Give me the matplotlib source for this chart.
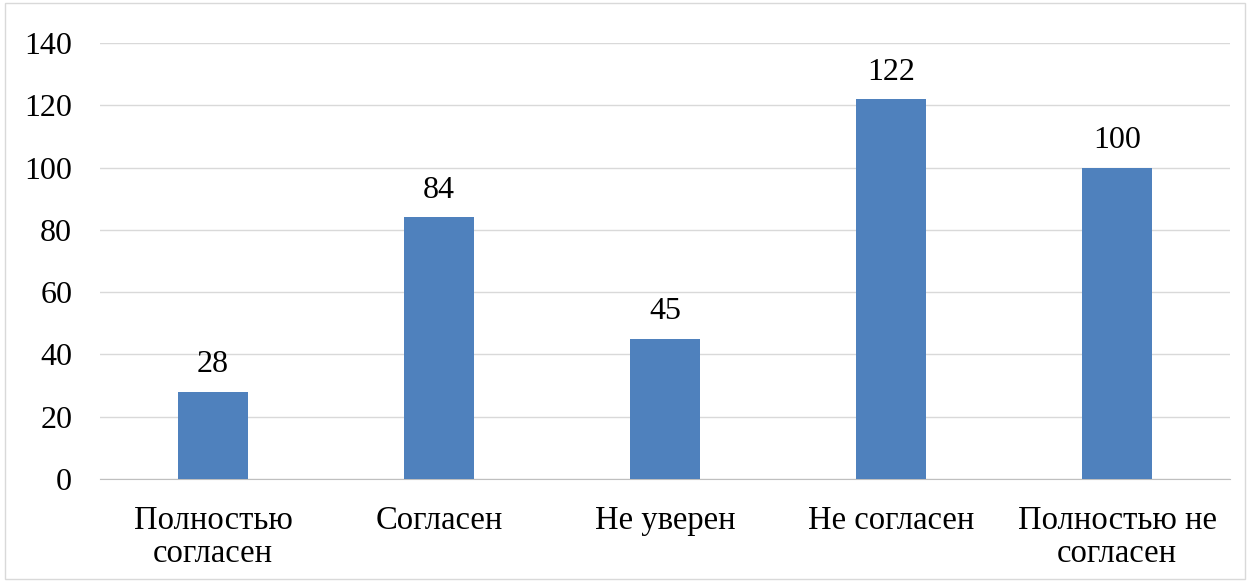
import matplotlib.pyplot as plt
from matplotlib.patches import Rectangle

plt.rcParams['font.family'] = ['Liberation Serif', 'DejaVu Serif']

categories = ['Полностью\nсогласен', 'Согласен', 'Не уверен', 'Не согласен', 'Полностью не\nсогласен']
values = [28, 84, 45, 122, 100]

fig = plt.figure(figsize=(12.5, 5.82), dpi=100)
ax = fig.add_axes([0.08, 0.177, 0.904, 0.749])

x = range(len(categories))
ax.bar(x, values, width=0.31, color='#4F81BD', zorder=3)
for xi, v in zip(x, values):
    ax.text(xi, v + 4, str(v), ha='center', va='bottom', fontsize=23)

ax.set_xlim(-0.5, len(categories) - 0.5)
ax.set_ylim(0, 140)
ax.set_yticks(range(0, 141, 20))
ax.grid(axis='y', color='#D9D9D9', linewidth=1, zorder=0)
ax.set_xticks(list(x))
ax.set_xticklabels(categories, fontsize=23.5, linespacing=1.1)
ax.tick_params(axis='y', labelsize=23, length=0, pad=20)
ax.tick_params(axis='x', length=0, pad=19)
for s in ['top', 'right', 'left']:
    ax.spines[s].set_visible(False)
ax.spines['bottom'].set_color('#BFBFBF')

fig.patches.append(Rectangle((0.004, 0.006), 0.992, 0.988, transform=fig.transFigure,
                             fill=False, edgecolor='#D9D9D9', linewidth=1))

fig.savefig('out.png', dpi=100)
